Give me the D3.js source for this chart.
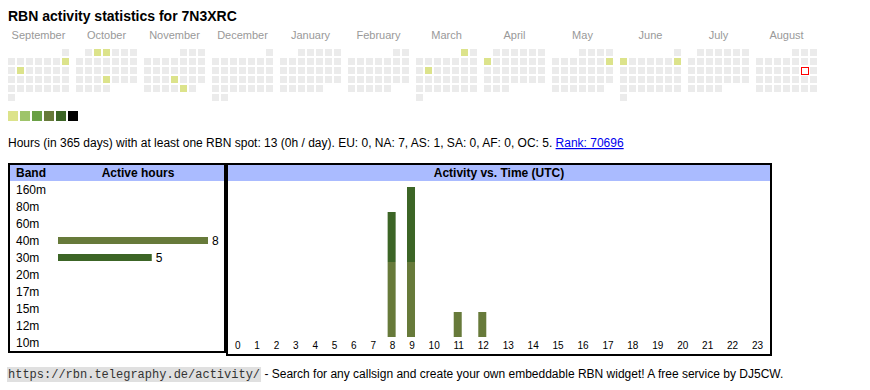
<!DOCTYPE html>
<html><head><meta charset="utf-8">
<script src="https://cdn.jsdelivr.net/npm/d3@7"></script>
<style>
body{margin:0;background:#fff}
svg{display:block;font-family:"Liberation Sans",Arial,sans-serif}
</style>
</head><body>
<svg id="c" width="870" height="390"></svg>
<script>
// ---------- data ----------
const title = "RBN activity statistics for 7N3XRC";
const monthNames = ["September","October","November","December","January","February","March","April","May","June","July","August"];
const firstYear = 2024, firstMonth = 8; // September 2024 (0-based month)
const activeDays = ["2024-09-08","2024-09-10","2024-10-02","2024-10-03","2024-10-24","2024-11-21","2024-11-29","2025-03-01","2025-03-11","2025-04-07","2025-05-11","2025-06-02","2025-06-08"];
const activeLevels = [1,1,1,1,1,1,1,1,1,1,1,1,1];
const today = "2025-08-16";
const levelColors = ["#ebebeb","#dce38b","#9ec46a","#6aa046","#677a3a","#3c6526","#000000"];
const bands = ["160m","80m","60m","40m","30m","20m","17m","15m","12m","10m"];
const bandHours = [0,0,0,8,5,0,0,0,0,0];
const bandColors = {"40m":"#677a3a","30m":"#3c6526"};
const hourLabels = ["0","1","2","3","4","5","6","7","8","9","10","11","12","13","14","15","16","17","18","19","20","21","22","23"];
const hours40m = [0,0,0,0,0,0,0,0,3,3,0,1,1,0,0,0,0,0,0,0,0,0,0,0];
const hours30m = [0,0,0,0,0,0,0,0,2,3,0,0,0,0,0,0,0,0,0,0,0,0,0,0];
const statsText = "Hours (in 365 days) with at least one RBN spot: 13 (0h / day). EU: 0, NA: 7, AS: 1, SA: 0, AF: 0, OC: 5. ";
const rankText = "Rank: 70696";
const footerUrl = "https://rbn.telegraphy.de/activity/";
const footerText = " - Search for any callsign and create your own embeddable RBN widget! A free service by DJ5CW.";

// ---------- drawing ----------
const svg = d3.select("#c");

svg.append("text").attr("x",8).attr("y",21)
  .attr("font-size",14).attr("font-weight","bold").attr("fill","#000").text(title);

// calendar
const monthX = d3.scaleLinear().domain([0,11]).range([8,756]);
const colX = d3.scaleLinear().domain([0,6]).range([0,54]);
const rowY = d3.scaleLinear().domain([0,5]).range([49,94]);
const activeMap = new Map(activeDays.map((d,i)=>[d,activeLevels[i]]));
const fmt = d3.utcFormat("%Y-%m-%d");

const days = [];
monthNames.forEach((m,mi)=>{
  const start = new Date(Date.UTC(firstYear, firstMonth+mi, 1));
  const end = d3.utcMonth.offset(start,1);
  const startCol = (start.getUTCDay()+6)%7;
  d3.utcDays(start,end).forEach(d=>{
    const idx = d.getUTCDate()-1+startCol;
    days.push({mi, col: idx%7, row: Math.floor(idx/7), key: fmt(d)});
  });
});

const cal = svg.append("g");
cal.selectAll("text.month").data(monthNames).join("text")
  .attr("class","month")
  .attr("x",(d,i)=>monthX(i)+30.5).attr("y",39)
  .attr("text-anchor","middle").attr("font-size",11).attr("fill","#999").text(d=>d);

cal.selectAll("rect.day").data(days.filter(d=>d.key!==today)).join("rect")
  .attr("class","day")
  .attr("x",d=>monthX(d.mi)+colX(d.col))
  .attr("y",d=>rowY(d.row))
  .attr("width",7).attr("height",7)
  .attr("fill",d=>levelColors[activeMap.get(d.key)||0]);
// today marker: red frame with white centre
cal.selectAll("rect.today").data(days.filter(d=>d.key===today)).join("rect")
  .attr("class","today")
  .attr("x",d=>monthX(d.mi)+colX(d.col)+0.5)
  .attr("y",d=>rowY(d.row)+0.5)
  .attr("width",7).attr("height",7).attr("fill","#fff")
  .attr("stroke","#ff0000").attr("stroke-width",1);

// legend
const legX = d3.scaleLinear().domain([0,1]).range([8,20]);
svg.selectAll("rect.leg").data(levelColors.slice(1)).join("rect")
  .attr("class","leg").attr("x",(d,i)=>legX(i)).attr("y",111)
  .attr("width",10).attr("height",10).attr("fill",d=>d);

// stats line
const st = svg.append("text").attr("x",8).attr("y",147).attr("font-size",12).attr("fill","#000")
  .style("white-space","pre");
st.append("tspan").text(statsText);
st.append("tspan").attr("fill","#0000ee").attr("text-decoration","underline").text(rankText);

// ---------- band panel ----------
const lp = svg.append("g");
lp.append("rect").attr("x",10).attr("y",165).attr("width",214).attr("height",16).attr("fill","#aabbff");
lp.append("rect").attr("x",9).attr("y",164).attr("width",216).attr("height",188)
  .attr("fill","none").attr("stroke","#000").attr("stroke-width",2);
lp.append("text").attr("x",16).attr("y",177).attr("font-size",12).attr("font-weight","bold").text("Band");
lp.append("text").attr("x",138).attr("y",177).attr("font-size",12).attr("font-weight","bold")
  .attr("text-anchor","middle").text("Active hours");

const bandY = d3.scaleBand().domain(bands).range([181,351]);
const bandX = d3.scaleLinear().domain([0,d3.max(bandHours)]).range([58,208]);
const bandData = bands.map((b,i)=>({b,v:bandHours[i]}));
lp.selectAll("text.bl").data(bandData).join("text").attr("class","bl")
  .attr("x",16).attr("y",d=>bandY(d.b)+bandY.bandwidth()/2+4).attr("font-size",12).text(d=>d.b);
lp.selectAll("rect.bb").data(bandData.filter(d=>d.v>0)).join("rect").attr("class","bb")
  .attr("x",bandX(0)).attr("y",d=>bandY(d.b)+bandY.bandwidth()/2-3.5)
  .attr("width",d=>bandX(d.v)-bandX(0)).attr("height",7)
  .attr("fill",d=>bandColors[d.b]);
lp.selectAll("text.bv").data(bandData.filter(d=>d.v>0)).join("text").attr("class","bv")
  .attr("x",d=>bandX(d.v)+4).attr("y",d=>bandY(d.b)+bandY.bandwidth()/2+4)
  .attr("font-size",12).text(d=>d.v);

// ---------- time panel ----------
const rp = svg.append("g");
rp.append("rect").attr("x",228).attr("y",165).attr("width",542).attr("height",16).attr("fill","#aabbff");
rp.append("rect").attr("x",227).attr("y",164).attr("width",544).attr("height",191)
  .attr("fill","none").attr("stroke","#000").attr("stroke-width",2);
rp.append("text").attr("x",499).attr("y",177).attr("font-size",12).attr("font-weight","bold")
  .attr("text-anchor","middle").text("Activity vs. Time (UTC)");

// column widths like an auto table: text width + equal padding
const meas = rp.append("text").attr("font-size",10).attr("visibility","hidden");
const tw = hourLabels.map(h=>{ meas.text(h); return meas.node().getComputedTextLength(); });
meas.remove();
const innerL = 228, innerW = 542;
const pad = (innerW - d3.sum(tw))/hourLabels.length;
const centers = []; let acc = innerL;
tw.forEach(w=>{ centers.push(acc + (w+pad)/2); acc += w+pad; });
const hourX = d3.scaleOrdinal().domain(hourLabels).range(centers);

const hourData = hourLabels.map((h,i)=>({h, "40m":hours40m[i], "30m":hours30m[i]}));
const stack = d3.stack().keys(["40m","30m"])(hourData);
const yT = d3.scaleLinear().domain([0,d3.max(hourData,d=>d["40m"]+d["30m"])]).range([337,187]);

rp.selectAll("g.ser").data(stack).join("g").attr("class","ser")
  .attr("fill",d=>bandColors[d.key])
  .selectAll("rect").data(d=>d.filter(s=>s[1]>s[0])).join("rect")
  .attr("x",d=>hourX(d.data.h)-5).attr("width",8)
  .attr("y",d=>yT(d[1])).attr("height",d=>yT(d[0])-yT(d[1]));

rp.selectAll("text.hl").data(hourLabels).join("text").attr("class","hl")
  .attr("x",d=>hourX(d)).attr("y",349).attr("text-anchor","middle").attr("font-size",10).text(d=>d);

// ---------- footer ----------
const foot = svg.append("g");
const fbg = foot.append("rect").attr("x",7).attr("y",367).attr("height",15).attr("fill","#e0e0e0");
const fu = foot.append("text").attr("x",8).attr("y",378).attr("font-size",12)
  .attr("font-family","'Liberation Mono',monospace").attr("fill","#333").text(footerUrl);
const fw = fu.node().getComputedTextLength();
fbg.attr("width",fw+2);
foot.append("text").attr("x",9+fw).attr("y",378).attr("font-size",12).attr("fill","#000")
  .style("white-space","pre").text(footerText);
</script>
</body></html>
